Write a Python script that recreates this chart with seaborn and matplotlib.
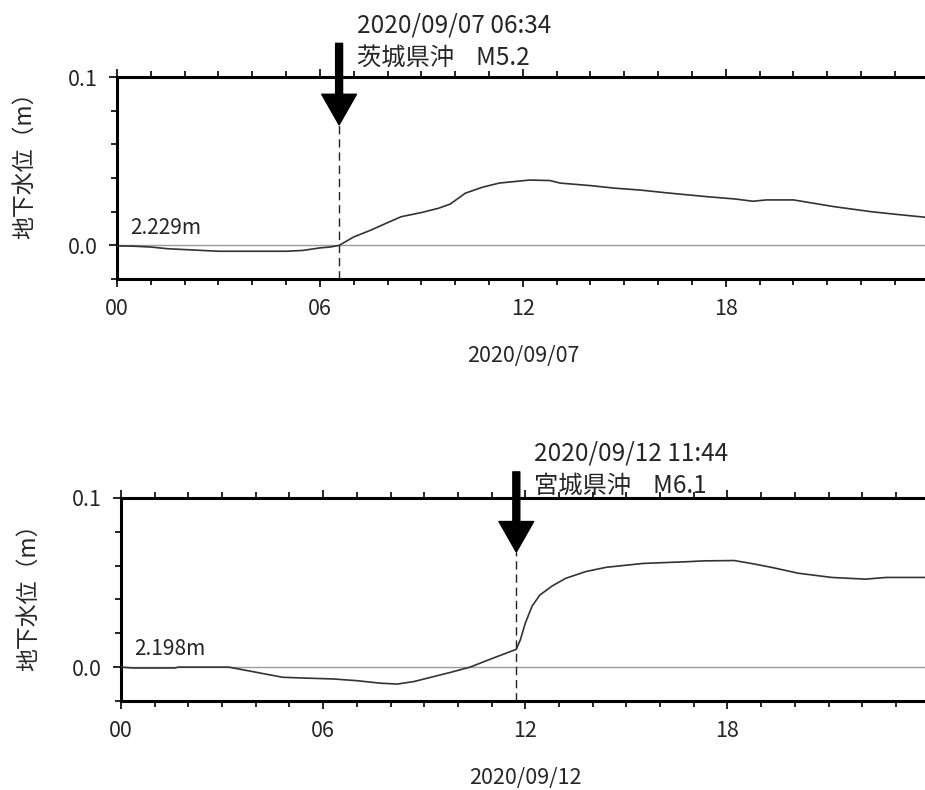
import matplotlib
matplotlib.use('Agg')
import matplotlib.pyplot as plt
import seaborn as sns
from matplotlib.ticker import MultipleLocator, FixedLocator, FixedFormatter

# 2020/09/07 茨城県沖 M5.2
top_hours = [0, 0.5, 1, 1.5, 2, 2.5, 3, 4, 5, 5.5, 6, 6.3, 6.57, 7, 7.5, 8, 8.4,
             9, 9.5, 9.85, 10.3, 10.8, 11.3, 11.8, 12.2, 12.8, 13.1, 14, 14.7,
             15.5, 16.25, 17.4, 18.3, 18.8, 19.2, 20, 20.6, 21.2, 22.3, 23, 24]
top_level = [-0.0003, -0.0005, -0.001, -0.002, -0.0025, -0.003, -0.0035, -0.0035,
             -0.0035, -0.003, -0.0015, -0.001, 0.0, 0.005, 0.009, 0.0135, 0.017,
             0.0195, 0.022, 0.0245, 0.031, 0.0345, 0.037, 0.038, 0.0388, 0.0385,
             0.037, 0.0355, 0.034, 0.0328, 0.0312, 0.029, 0.0275, 0.0262, 0.027,
             0.027, 0.025, 0.023, 0.020, 0.0185, 0.0165]

# 2020/09/12 宮城県沖 M6.1
bot_hours = [0, 0.36, 1.6, 1.7, 3.2, 4, 4.8, 5.5, 6.3, 7, 7.7, 8.2, 8.7, 9.26,
             9.8, 10.36, 11, 11.73, 11.85, 12.0, 12.2, 12.43, 12.8, 13.2, 13.8,
             14.4, 15.5, 16.8, 17.3, 18.2, 18.7, 19.3, 20.1, 21.1, 22.1, 22.7, 24]
bot_level = [0.0, -0.0005, -0.0005, 0.0, 0.0, -0.003, -0.006, -0.0065, -0.007,
             -0.008, -0.0095, -0.010, -0.0085, -0.0057, -0.003, 0.0, 0.005, 0.0105,
             0.016, 0.026, 0.036, 0.0426, 0.048, 0.0525, 0.0565, 0.059, 0.0613,
             0.0623, 0.0628, 0.063, 0.0613, 0.059, 0.0555, 0.053, 0.052, 0.053, 0.053]

panels = [
    dict(hours=top_hours, level=top_level, base='2.229m', date='2020/09/07',
         eq_time=6 + 34 / 60, eq_label='2020/09/07 06:34', eq_name='茨城県沖    M5.2',
         rect=[0.1265, 0.6468, 0.8775, 0.2557], arrow_top=0.120, arrow_tip=0.0716,
         ylab_y=0.59),
    dict(hours=bot_hours, level=bot_level, base='2.198m', date='2020/09/12',
         eq_time=11 + 44 / 60, eq_label='2020/09/12 11:44', eq_name='宮城県沖    M6.1',
         rect=[0.1308, 0.1127, 0.8742, 0.2570], arrow_top=0.1154, arrow_tip=0.068,
         ylab_y=0.54),
]

sns.set_theme(style='ticks')
plt.rcParams['font.family'] = ['Noto Sans CJK JP', 'DejaVu Sans']

fig = plt.figure(figsize=(9.25, 7.9), dpi=100)

for p in panels:
    ax = fig.add_axes(p['rect'])
    ax.set_xlim(0, 24)
    ax.set_ylim(-0.02, 0.1)

    ax.axhline(0, color='#9a9a9a', linewidth=1, zorder=1)
    sns.lineplot(x=p['hours'], y=p['level'], ax=ax, color='#333333',
                 linewidth=1.2, zorder=3)

    # 地震発生時刻
    ax.plot([p['eq_time'], p['eq_time']], [-0.02, p['arrow_tip']],
            color='#222222', linewidth=1, linestyle=(0, (6, 3.5)), zorder=2)
    ax.annotate('', xy=(p['eq_time'], p['arrow_tip']),
                xytext=(p['eq_time'], p['arrow_top']),
                arrowprops=dict(arrowstyle='simple,head_width=2.5,head_length=2.2,tail_width=0.5',
                                mutation_scale=10, color='black', shrinkA=0, shrinkB=0),
                annotation_clip=False)
    ax.text(p['eq_time'] + 0.52, p['arrow_top'] + 0.0107, p['eq_label'],
            fontsize=17.5, va='center', ha='left', clip_on=False)
    ax.text(p['eq_time'] + 0.52, p['arrow_top'] - 0.0083, p['eq_name'],
            fontsize=17.5, va='center', ha='left', clip_on=False)

    ax.text(0.4, 0.0105, p['base'], fontsize=15, va='center', ha='left')

    ax.xaxis.set_major_locator(FixedLocator([0, 6, 12, 18]))
    ax.xaxis.set_major_formatter(FixedFormatter(['00', '06', '12', '18']))
    ax.xaxis.set_minor_locator(MultipleLocator(1))
    ax.yaxis.set_major_locator(FixedLocator([0.0, 0.1]))
    ax.yaxis.set_major_formatter(FixedFormatter(['0.0', '0.1']))
    ax.yaxis.set_minor_locator(MultipleLocator(0.02))

    ax.tick_params(axis='both', which='both', direction='out', width=1.2,
                   color='black', labelsize=15.5, pad=8)
    ax.tick_params(axis='x', which='both', top=True)
    ax.tick_params(axis='y', which='both', right=True)
    ax.tick_params(which='major', length=6)
    ax.tick_params(which='minor', length=4)

    for s in ax.spines.values():
        s.set_linewidth(2.2)
        s.set_color('black')

    ax.set_xlabel(p['date'], fontsize=15.5, labelpad=18)
    ax.set_ylabel('地下水位（m）', fontsize=16.5, labelpad=18)
    ax.yaxis.set_label_coords(-0.1, p['ylab_y'])
    ax.grid(False)

plt.savefig('out.png', dpi=100)
